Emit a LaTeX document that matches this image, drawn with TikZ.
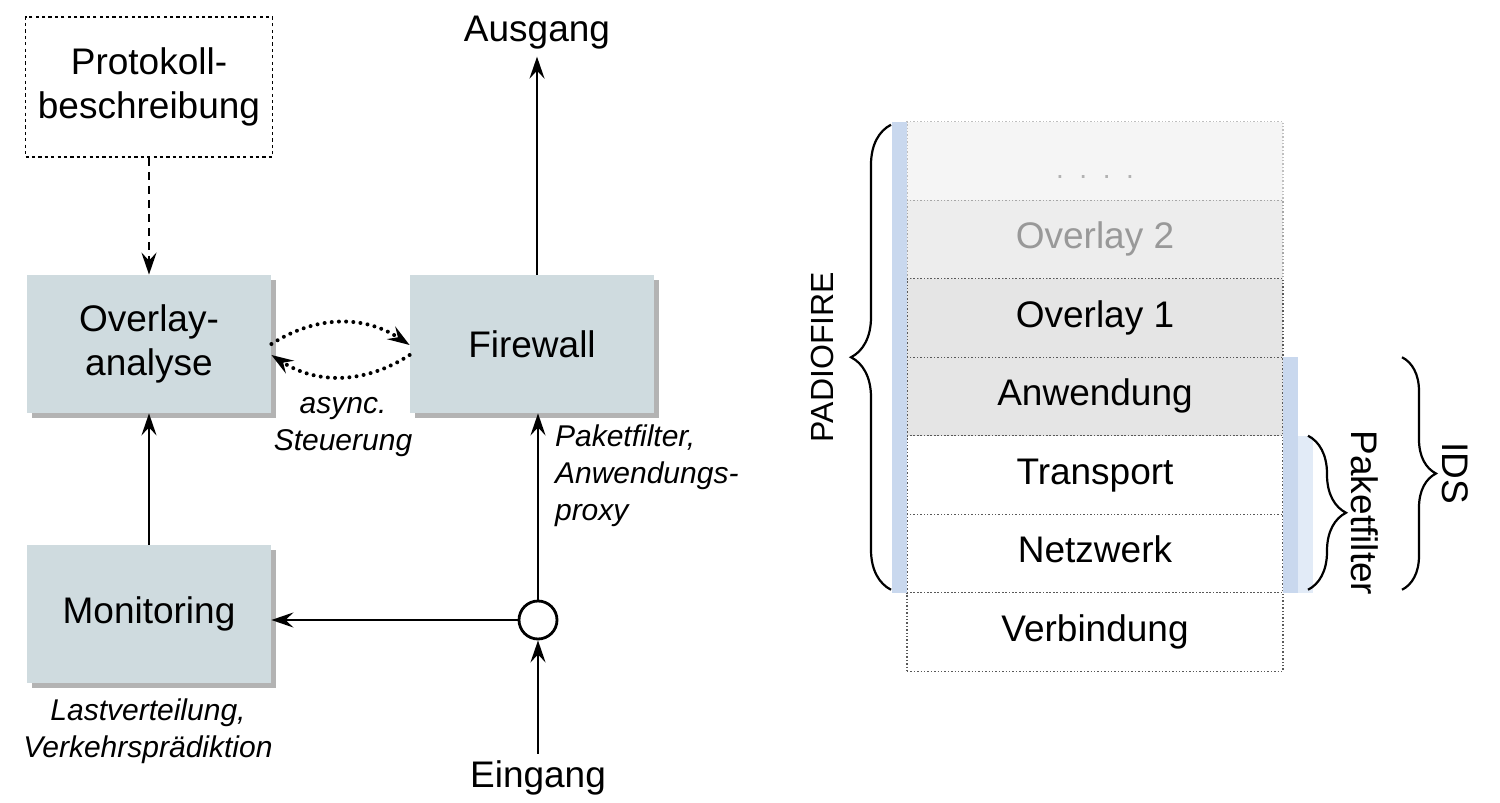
\documentclass[tikz,border=0pt]{standalone}
\usepackage{fontspec}
\setmainfont{Liberation Sans}
\usetikzlibrary{arrows.meta, shapes.geometric, calc, shadows, positioning, decorations.pathreplacing}

\definecolor{boxblue}{RGB}{207,219,223}
\definecolor{barblue}{RGB}{201,216,238}
\definecolor{barlight}{RGB}{226,235,247}
\definecolor{layergray}{RGB}{229,229,229}

\begin{document}
\begin{tikzpicture}[x=0.5pt, y=-0.5pt,
    >={Stealth[length=11pt,width=7.5pt,inset=4pt]},
    every node/.style={font=\fontsize{18.5}{22}\selectfont},
    block/.style  = {fill=boxblue, minimum width=122pt, minimum height=69pt,
      align=center, drop shadow={shadow xshift=2.5pt, shadow yshift=-2.5pt,
      fill=black!50, opacity=0.6}},
    lbl/.style    = {font=\fontsize{15}{18.5}\selectfont\itshape},
    arr/.style    = {->, line width=1.4pt},
    dotarr/.style = {->, line width=2pt, dash pattern=on 0pt off 3.6pt,
      line cap=round},
    layer/.style  = {draw=black!65, densely dotted, line width=0.7pt,
      minimum width=188pt, minimum height=39.25pt, text height=13pt,
      text depth=4pt, inner sep=0pt, outer sep=0pt},
    curly/.style  = {decorate, decoration={brace, amplitude=#1}, line width=1.1pt},
  ]
  \useasboundingbox (0,0) rectangle (1500,803);

  % left: data flow
  \node[draw, dash pattern=on 1.6pt off 1.6pt, line width=0.8pt,
    minimum width=123.5pt, minimum height=70pt, align=center]
    (proto) at (149,87) {Protokoll-\\beschreibung};
  \node[block] (ovl) at (149,344) {Overlay-\\analyse};
  \node[block] (fw)  at (532,344) {Firewall};
  \node[block] (mon) at (149,614) {Monitoring};
  \node[circle, draw, line width=1.4pt, minimum size=19pt, inner sep=0pt]
    (junc) at (538,620) {};
  \node (aus) at (537,33) {Ausgang};
  \node (ein) at (538,778) {Eingang};

  \draw[->, line width=1.4pt, dash pattern=on 4pt off 3pt] (proto) -- (ovl);
  \draw[arr] (mon) -- (ovl);
  \draw[arr] (ein) -- (junc);
  \draw[arr] (junc) -- (junc -| mon.east);
  \draw[arr] (junc) -- (junc |- fw.south);
  \draw[arr] (fw.north -| aus) -- (aus);
  \draw[dotarr] (ovl.east) to[bend left=33] ([yshift=-0.5pt]fw.west);
  \draw[dotarr] ([yshift=-5.5pt]fw.west) to[bend left=33] ([yshift=-5.5pt]ovl.east);

  \node[lbl, align=center] (asynclbl) at (343,427) {async.\\Steuerung};
  \node[lbl, align=left, anchor=north west] (pflbl) at (548,418)
    {Paketfilter,\\Anwendungs-\\proxy};
  \node[lbl, align=center] (lastlbl) at (148,731)
    {Lastverteilung,\\Verkehrsprädiktion};

  % right: layer stack
  \node[layer, fill=black!4, draw=black!25, text=black!30] (dots) at (1095,161)
    {\raisebox{-4pt}{\fontsize{14}{16}\selectfont.\ \ .\ \ .\ \ .}};
  \node[layer, fill=black!7, draw=black!35, text=black!40, below=0pt of dots] (ov2) {Overlay 2};
  \node[layer, fill=layergray, below=0pt of ov2]  (ov1)   {Overlay 1};
  \node[layer, fill=layergray, below=0pt of ov1]  (anw)   {Anwendung};
  \node[layer, fill=white, below=0pt of anw]      (trans) {Transport};
  \node[layer, fill=white, below=0pt of trans]    (netz)  {Netzwerk};
  \node[layer, fill=white, below=0pt of netz]     (verb)  {Verbindung};

  \fill[barblue] ([xshift=-7.5pt]dots.north west) rectangle (netz.south west);
  \fill[barblue] (anw.north east) rectangle ([xshift=7.5pt]netz.south east);
  \fill[barlight] ([xshift=7.5pt]trans.north east) rectangle ([xshift=15pt]netz.south east);

  \draw[curly=20pt] ([xshift=-8pt,yshift=1.5pt]netz.south west)
    -- ([xshift=-8pt,yshift=-1.5pt]dots.north west);
  \draw[curly=17pt] ([xshift=59.5pt]anw.north east)
    -- ([xshift=59.5pt,yshift=1.5pt]netz.south east);
  \draw[curly=19pt] ([xshift=12.5pt]trans.north east)
    -- ([xshift=12.5pt,yshift=1.5pt]netz.south east);

  \node[rotate=90, font=\fontsize{16}{19}\selectfont] (padlbl) at (822,357) {PADIOFIRE};
  \node[rotate=-90] (idslbl) at (1455,473) {IDS};
  \node[rotate=-90] (pktlbl) at (1365,513) {Paketfilter};
\end{tikzpicture}
\end{document}
